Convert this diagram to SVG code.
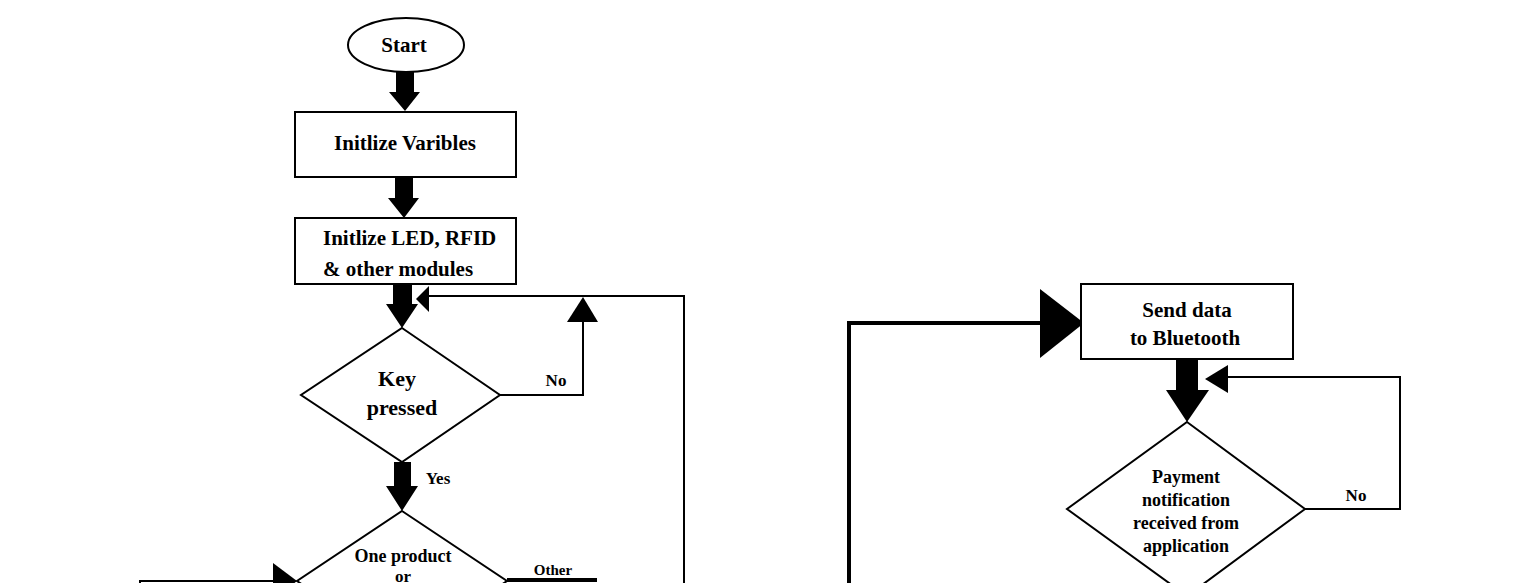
<svg xmlns="http://www.w3.org/2000/svg" width="1534" height="583" viewBox="0 0 1534 583">
<style>
.shape{fill:#fff;stroke:#000;stroke-width:2}
.t{font-family:"Liberation Serif","Times New Roman",serif;font-weight:bold;fill:#000;text-anchor:middle}
.line{fill:none;stroke:#000;stroke-width:2}
.thick{fill:none;stroke:#000;stroke-width:4}
.head{fill:#000;stroke:none}
</style>
<rect width="1534" height="583" fill="#fff"/>
<g id="connectors">
  <!-- Start -> Initlize Varibles -->
  <polygon class="head" points="396,72 414,72 414,92 420,92 405,111 389,92 396,92"/>
  <!-- Initlize Varibles -> Initlize LED -->
  <polygon class="head" points="395,177 413,177 413,198 419,198 404,218 388,198 395,198"/>
  <!-- Initlize LED -> Key pressed -->
  <polygon class="head" points="393,284 412,284 412,304 418,304 402,328 386,304 393,304"/>
  <!-- Key pressed -> One product (Yes) -->
  <polygon class="head" points="394,462 411,462 411,486 418,486 402,511 386,486 394,486"/>
  <!-- No loop of Key pressed -->
  <polyline class="line" points="500,395 583,395 583,320"/>
  <polygon class="head" points="583,297 598,322 567,322"/>
  <!-- return loop into Key pressed -->
  <polyline class="line" points="684,583 684,296 428,296"/>
  <polygon class="head" points="416,299 429,286 429,312"/>
  <!-- left input to One product -->
  <polyline class="line" points="140,585 140,581 276,581"/>
  <polygon class="head" points="297,581 273,563 273,600"/>
  <!-- Other branch -->
  <line class="thick" x1="507" y1="580" x2="597" y2="580"/>
  <!-- into Send data -->
  <polyline class="thick" points="849,583 849,323 1042,323"/>
  <polygon class="head" points="1084,323 1040,289 1040,358"/>
  <!-- Send data -> Payment -->
  <polygon class="head" points="1176,359 1198,359 1198,390 1209,390 1187,422 1166,390 1176,390"/>
  <!-- No loop of Payment -->
  <polyline class="line" points="1305,509 1400,509 1400,377 1226,377"/>
  <polygon class="head" points="1205,379 1228,365 1228,393"/>
</g>
<g id="start">
  <ellipse class="shape" cx="406" cy="45" rx="58" ry="27"/>
  <text class="t" x="404" y="52" font-size="21">Start</text>
</g>
<g id="init-vars">
  <rect class="shape" x="295" y="112" width="221" height="65"/>
  <text class="t" x="405" y="150" font-size="21">Initlize Varibles</text>
</g>
<g id="init-modules">
  <rect class="shape" x="295" y="218" width="221" height="66"/>
  <text class="t" x="323" y="245" font-size="21" style="text-anchor:start">Initlize LED, RFID</text>
  <text class="t" x="323" y="276" font-size="21" style="text-anchor:start">&amp; other modules</text>
</g>
<g id="key-pressed">
  <polygon class="shape" points="402,328 500,395 402,462 301,395"/>
  <text class="t" x="397" y="386" font-size="22">Key</text>
  <text class="t" x="402" y="415" font-size="22">pressed</text>
  <text class="t" x="556" y="386" font-size="17">No</text>
  <text class="t" x="438" y="484" font-size="17">Yes</text>
</g>
<g id="one-product">
  <polygon class="shape" points="402,511 507,581 402,651 297,581"/>
  <text class="t" x="403" y="562" font-size="18">One product</text>
  <text class="t" x="403" y="582" font-size="17">or</text>
  <text class="t" x="553" y="575" font-size="15">Other</text>
</g>
<g id="send-data">
  <rect class="shape" x="1081" y="284" width="212" height="75"/>
  <text class="t" x="1187" y="317" font-size="21">Send data</text>
  <text class="t" x="1185" y="345" font-size="21">to Bluetooth</text>
</g>
<g id="payment">
  <polygon class="shape" points="1187,422 1305,509 1187,596 1067,509"/>
  <text class="t" x="1186" y="483" font-size="18">Payment</text>
  <text class="t" x="1186" y="506" font-size="18">notification</text>
  <text class="t" x="1186" y="529" font-size="18">received from</text>
  <text class="t" x="1186" y="552" font-size="18">application</text>
  <text class="t" x="1356" y="501" font-size="17">No</text>
</g>
</svg>
